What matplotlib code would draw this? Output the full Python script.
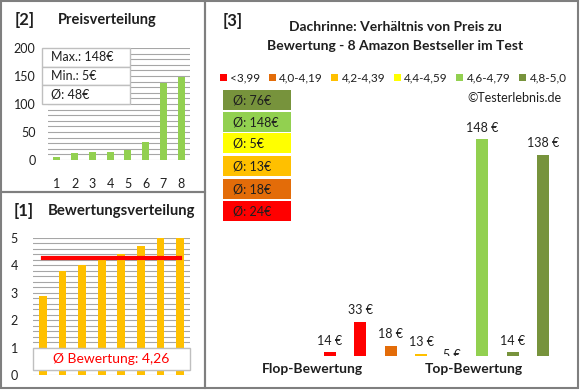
import matplotlib
matplotlib.use("Agg")
import matplotlib.pyplot as plt
from matplotlib.patches import Rectangle, Patch
from matplotlib.ticker import MultipleLocator

plt.rcParams['font.family'] = ['Lato', 'DejaVu Sans']

# data
prices_sorted = [5, 13, 14, 14, 18, 33, 138, 148]
ratings_sorted = [2.9, 3.8, 4.0, 4.2, 4.4, 4.7, 5.0, 5.0]
rating_avg = 4.26
price_max, price_min, price_avg = 148, 5, 48

products_price = [14, 33, 18, 13, 5, 148, 14, 138]
products_group = [0, 0, 1, 2, 3, 4, 5, 5]

group_labels = ['<3,99', '4,0-4,19', '4,2-4,39', '4,4-4,59', '4,6-4,79', '4,8-5,0']
group_colors = ['#FF0000', '#E36C09', '#FFC000', '#FFFF00', '#92D050', '#77933C']
group_avg = [24, 18, 13, 5, 148, 76]

W, H = 580, 390
grid_c = '#A6A6A6'
border_c = '#7F7F7F'
txt_c = '#1F1F1F'


def box(x0, y0, x1, y1):
    return [x0 / W, 1 - y1 / H, (x1 - x0) / W, (y1 - y0) / H]


def fx(x):
    return x / W


def fy(y):
    return 1 - y / H


fig = plt.figure(figsize=(5.8, 3.9), dpi=100)

# panel borders
for (x0, y0, x1, y1) in [(1, 1, 205, 192), (1, 192, 205, 388), (205, 1, 578, 388)]:
    fig.add_artist(Rectangle((fx(x0), fy(y1)), fx(x1 - x0), (y1 - y0) / H,
                             transform=fig.transFigure, fill=False,
                             edgecolor=border_c, lw=1.5))

# ---- [2] Preisverteilung
fig.text(fx(15), fy(20), '[2]', fontsize=12, fontweight='bold', va='center', color=txt_c)
fig.text(fx(58), fy(20), 'Preisverteilung', fontsize=10.5, fontweight='bold', va='center', color=txt_c)

ax1 = fig.add_axes(box(48, 48, 190, 160))
xs = list(range(1, len(prices_sorted) + 1))
ax1.bar(xs, prices_sorted, width=0.4, color='#92D050', zorder=3)
ax1.set_xlim(0.5, 8.5)
ax1.set_ylim(0, 200)
ax1.yaxis.set_major_locator(MultipleLocator(50))
ax1.yaxis.set_minor_locator(MultipleLocator(10))
ax1.grid(axis='y', which='both', color=grid_c, lw=0.8, zorder=0)
ax1.set_xticks(xs)
ax1.tick_params(axis='both', which='both', length=0, labelsize=9, colors=txt_c)
ax1.tick_params(axis='x', pad=13)
ax1.tick_params(axis='y', pad=9)
for s in ax1.spines.values():
    s.set_visible(False)

stats = ['Max.: %d€' % price_max, 'Min.: %d€' % price_min, 'Ø: %d€' % price_avg]
row_h = (104 - 48) / 3
for i, t in enumerate(stats):
    y0 = 48 + i * row_h
    fig.add_artist(Rectangle((fx(42), fy(y0 + row_h)), fx(130 - 42), row_h / H,
                             transform=fig.transFigure, facecolor='white',
                             edgecolor='#BFBFBF', lw=1, zorder=5))
    fig.text(fx(51), fy(y0 + row_h / 2), t, fontsize=9, va='center', color=txt_c, zorder=6)

# ---- [1] Bewertungsverteilung
fig.text(fx(14), fy(211), '[1]', fontsize=12, fontweight='bold', va='center', color=txt_c)
fig.text(fx(48), fy(211), 'Bewertungsverteilung', fontsize=10.7, fontweight='bold', va='center', color=txt_c)

ax2 = fig.add_axes(box(33, 238, 190, 375))
xr = list(range(len(ratings_sorted)))
ax2.bar(xr, ratings_sorted, width=0.4, color='#FFC000', zorder=3)
ax2.plot([xr[0], xr[-1]], [rating_avg, rating_avg], color='#FF0000', lw=3, zorder=4)
ax2.set_xlim(-0.5, 7.5)
ax2.set_ylim(0, 5)
ax2.yaxis.set_major_locator(MultipleLocator(1))
ax2.yaxis.set_minor_locator(MultipleLocator(0.2))
ax2.grid(axis='y', which='both', color=grid_c, lw=0.8, zorder=0)
ax2.set_xticks([])
ax2.tick_params(axis='both', which='both', length=0, labelsize=9, colors=txt_c)
ax2.tick_params(axis='y', pad=11)
for s in ax2.spines.values():
    s.set_visible(False)
ax2.add_patch(Rectangle((0, 0.2), 1, 0.8, transform=ax2.get_yaxis_transform(),
                        facecolor='white', edgecolor='#BFBFBF', lw=1, zorder=5, clip_on=False))
ax2.text(0.5, 0.6, 'Ø Bewertung: ' + ('%.2f' % rating_avg).replace('.', ','),
         transform=ax2.get_yaxis_transform(), ha='center', va='center',
         fontsize=10, color='#FF0000', zorder=6)

# ---- [3] Preis / Bewertung
fig.text(fx(223), fy(21), '[3]', fontsize=12, fontweight='bold', va='center', color=txt_c)
fig.text(fx(395), fy(27), 'Dachrinne: Verhältnis von Preis zu', fontsize=10,
         fontweight='bold', ha='center', va='center', color=txt_c)
fig.text(fx(395), fy(46), 'Bewertung - 8 Amazon Bestseller im Test', fontsize=10,
         fontweight='bold', ha='center', va='center', color=txt_c)

handles = [Patch(facecolor=c, edgecolor='none') for c in group_colors]
fig.legend(handles, group_labels, loc='center', bbox_to_anchor=(fx(393), fy(78)),
           ncol=6, frameon=False, fontsize=8.5, handlelength=0.6, handleheight=0.6,
           handletextpad=0.3, columnspacing=0.7, labelcolor=txt_c)

fig.text(fx(562), fy(98), '©Testerlebnis.de', fontsize=9, ha='right', va='center', color=txt_c)

box_tops = [90, 112, 133, 156, 179, 201]
for k, gi in enumerate(reversed(range(len(group_labels)))):
    y0 = box_tops[k]
    fig.add_artist(Rectangle((fx(223), fy(y0 + 20)), fx(291 - 223), 20 / H,
                             transform=fig.transFigure, facecolor=group_colors[gi],
                             edgecolor='none'))
    fig.text(fx(233), fy(y0 + 10.5), 'Ø: %d€' % group_avg[gi], fontsize=9,
             va='center', color=txt_c)

ax3 = fig.add_axes(box(314.5, 120, 558.5, 356))
xp = list(range(len(products_price)))
ax3.bar(xp, products_price, width=0.4, color=[group_colors[g] for g in products_group])
ax3.set_xlim(-0.5, 7.5)
ax3.set_ylim(11.6, 160)
ax3.axis('off')
for x, v in zip(xp, products_price):
    ax3.annotate('%d €' % v, (x, v), xytext=(0, 4), textcoords='offset points',
                 ha='center', va='bottom', fontsize=9, color=txt_c,
                 annotation_clip=False, clip_on=True)

fig.text(fx(312), fy(369), 'Flop-Bewertung', fontsize=10, fontweight='bold',
         ha='center', va='center', color=txt_c)
fig.text(fx(474), fy(369), 'Top-Bewertung', fontsize=10, fontweight='bold',
         ha='center', va='center', color=txt_c)

fig.savefig('out.png', dpi=100)
